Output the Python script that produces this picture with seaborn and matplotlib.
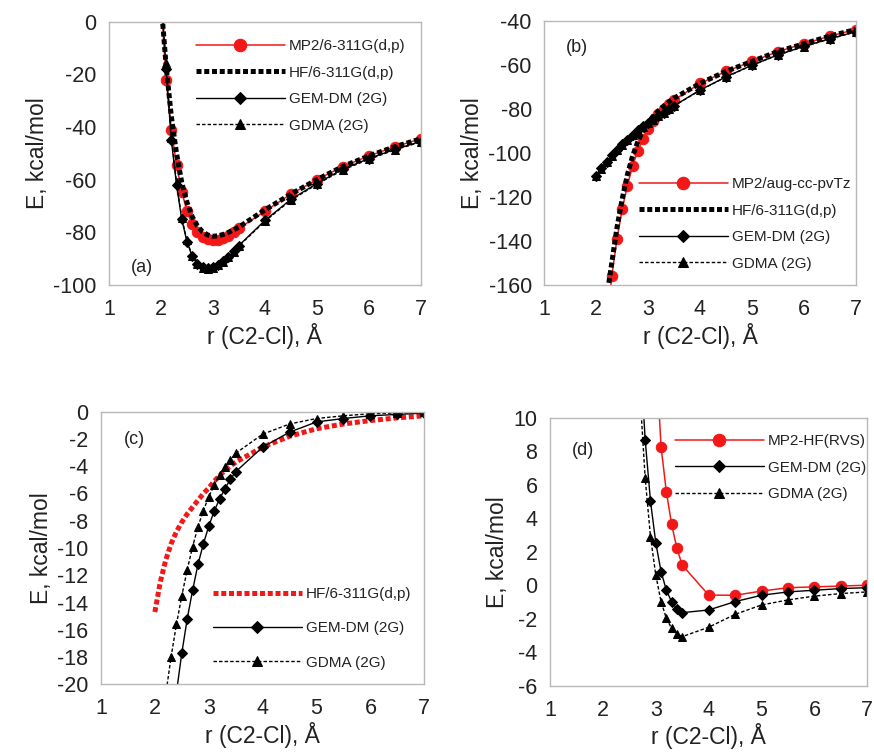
import seaborn as sns
import matplotlib.pyplot as plt

# r (C2-Cl) grid, Å
r_all = [2.0, 2.1, 2.2, 2.3, 2.4, 2.5, 2.6, 2.7, 2.8, 2.9, 3.0, 3.1, 3.2, 3.3, 3.4, 3.5,
         4.0, 4.5, 5.0, 5.5, 6.0, 6.5, 7.0]
r_from21 = r_all[1:]
r_from22 = r_all[2:]
r_from23 = r_all[3:]
r_from27 = [2.7, 2.8, 2.9, 3.0, 3.1, 3.2, 3.3, 3.4, 3.5, 4.0, 4.5, 5.0, 5.5, 6.0, 6.5, 7.0]
r_from30 = [3.0, 3.1, 3.2, 3.3, 3.4, 3.5, 4.0, 4.5, 5.0, 5.5, 6.0, 6.5, 7.0]

# (a) total energies
mp2_a = [8, -22, -41, -54.5, -64.5, -72, -77, -80, -81.8, -82.7, -83, -82.8, -82.2, -81.3, -80, -78.5,
         -72, -65.5, -60, -55, -51, -47.5, -44.5]
hf_a = [8, -17, -36, -50, -61, -68.5, -74, -77.5, -79.8, -81, -81.5, -81.3, -80.8, -80, -79, -78,
        -71.5, -65.5, -60, -55, -51, -47.5, -44.5]
gem_a = [12, -18, -45, -62, -75, -83.5, -89, -92, -93.3, -93.7, -93.3, -92.3, -91, -89.3, -87.2, -85,
         -75.5, -67.5, -61.5, -56, -52, -48.5, -45.5]
gdma_a = [10, -15.5, -44, -61, -74.5, -83, -88.8, -92, -93.5, -93.8, -93.5, -92.5, -91.2, -89.5, -87.4, -85.2,
          -75.8, -67.8, -61.8, -56.3, -52.3, -48.7, -45.7]

# (b)
mp2_b = [-180, -156, -139, -125.7, -115, -106, -99.2, -93.6, -89, -85.5, -82.5, -80, -78, -76,
         -68.5, -63, -58.5, -54, -50.5, -47, -44]
hf_b = [-166, -150, -134, -121, -110, -101.5, -95, -90, -86.3, -83.3, -80.9, -78.8, -76.9, -75.2,
        -68.5, -63, -58.5, -54, -50.5, -47, -44]
gem_b = [-110.5, -107, -104, -101.2, -98.6, -96.2, -94, -91.8, -89.8, -88, -86.5, -84.8, -83.2, -81.7, -80.2, -78.6,
         -71.5, -65.5, -60.2, -55.5, -51.7, -48.2, -45]
gdma_b = [-110.5, -107.2, -104.1, -101.3, -98.7, -96.3, -94.1, -91.9, -89.9, -88.1, -86.6, -84.9, -83.3, -81.8, -80.3, -78.7,
          -71.6, -65.6, -60.3, -55.6, -51.8, -48.3, -45.1]

# (c)
hf_c = [-14.7, -12.5, -10.9, -9.7, -8.8, -8.1, -7.5, -7.0, -6.5, -6.0, -5.6, -5.1, -4.7, -4.3, -4.0, -3.7,
        -2.6, -1.8, -1.25, -0.9, -0.65, -0.45, -0.3]
gem_c = [-24, -20.6, -17.7, -15.2, -13.1, -11.2, -9.7, -8.4, -7.3, -6.4, -5.65, -4.96, -4.4,
         -2.6, -1.5, -0.75, -0.5, -0.3, -0.2, -0.1]
gdma_c = [-24.5, -20.8, -18.0, -15.6, -13.5, -11.6, -9.9, -8.45, -7.25, -6.25, -5.4, -4.65, -4.05, -3.55, -3.05,
          -1.65, -0.9, -0.5, -0.3, -0.15, -0.1, -0.05]

# (d)
mp2_d = [14, 8.27, 5.58, 3.63, 2.2, 1.2, -0.59, -0.6, -0.35, -0.15, -0.1, -0.05, 0.0]
gem_d = [14, 8.67, 5.03, 2.54, 0.81, -0.29, -1.0, -1.4, -1.64, -1.48, -0.98, -0.6, -0.4, -0.3, -0.2, -0.15]
gdma_d = [11.5, 6.38, 2.9, 0.61, -0.98, -1.98, -2.57, -2.9, -3.07, -2.51, -1.74, -1.18, -0.88, -0.65, -0.5, -0.4]

RED = '#f21818'
STYLES = {
    'mp2': dict(marker='o', markersize=7.5, linewidth=1.1, linestyle='-'),
    'hf': dict(marker='', linewidth=3.6, linestyle=(0, (1, 0.55))),
    'gem': dict(marker='D', markersize=4.8, linewidth=1.0, linestyle='-'),
    'gdma': dict(marker='^', markersize=6, linewidth=1.0, linestyle=(0, (2.5, 1.5))),
}

sns.set_style("white")
plt.rcParams['font.family'] = ['Liberation Sans', 'DejaVu Sans']
plt.rcParams['axes.unicode_minus'] = False

W, H = 874, 755
fig = plt.figure(figsize=(W / 100, H / 100), dpi=100)


def add_ax(left, top, right, bottom):
    return fig.add_axes([left / W, 1 - bottom / H, (right - left) / W, (bottom - top) / H])


def curve(ax, x, y, kind, color, label):
    sns.lineplot(x=x, y=y, ax=ax, color=color, label=label, estimator=None, sort=False,
                 markeredgecolor=color, markerfacecolor=color, **STYLES[kind])


def finish(ax, yticks, tag, tag_xy, leg_xy, spacing):
    ax.set_xlim(1, 7)
    ax.set_ylim(yticks[0], yticks[-1])
    ax.set_xticks(range(1, 8))
    ax.set_yticks(yticks)
    for sp in ax.spines.values():
        sp.set_color('#b8b8b8')
        sp.set_linewidth(1.0)
    ax.tick_params(axis='both', direction='out', length=5, width=1, color='#b8b8b8',
                   labelsize=15.5, labelcolor='#222222')
    ax.tick_params(axis='x', pad=5)
    ax.tick_params(axis='y', pad=4)
    ax.set_xlabel('r (C2-Cl), Å', fontsize=16.5, color='#222222', labelpad=2)
    ax.set_ylabel('E, kcal/mol', fontsize=16.5, color='#222222', labelpad=3)
    ax.text(tag_xy[0], tag_xy[1], tag, transform=ax.transAxes, fontsize=13, color='#222222')
    ax.legend(loc='upper left', bbox_to_anchor=(leg_xy[0] / W, 1 - leg_xy[1] / H),
              bbox_transform=fig.transFigure, frameon=False, fontsize=11, borderpad=0,
              borderaxespad=0, handlelength=5.8, handletextpad=0.3, labelspacing=spacing,
              labelcolor='#222222', markerscale=1.2)


# (a)
ax = add_ax(109, 21.7, 420.7, 285)
curve(ax, r_all, mp2_a, 'mp2', RED, 'MP2/6-311G(d,p)')
curve(ax, r_all, hf_a, 'hf', 'black', 'HF/6-311G(d,p)')
curve(ax, r_all, gem_a, 'gem', 'black', 'GEM-DM (2G)')
curve(ax, r_all, gdma_a, 'gdma', 'black', 'GDMA (2G)')
finish(ax, [-100, -80, -60, -40, -20, 0], '(a)', (0.07, 0.05), (196, 39), 0.82)

# (b)
ax = add_ax(544.3, 20.7, 855.7, 285)
curve(ax, r_from22, mp2_b, 'mp2', RED, 'MP2/aug-cc-pvTz')
curve(ax, r_from22, hf_b, 'hf', 'black', 'HF/6-311G(d,p)')
curve(ax, r_all, gem_b, 'gem', 'black', 'GEM-DM (2G)')
curve(ax, r_all, gdma_b, 'gdma', 'black', 'GDMA (2G)')
finish(ax, [-160, -140, -120, -100, -80, -60, -40], '(b)', (0.07, 0.88), (639, 177), 0.82)

# (c)
ax = add_ax(101, 411.7, 424.3, 684.3)
curve(ax, r_all, hf_c, 'hf', RED, 'HF/6-311G(d,p)')
curve(ax, r_from23, gem_c, 'gem', 'black', 'GEM-DM (2G)')
curve(ax, r_from21, gdma_c, 'gdma', 'black', 'GDMA (2G)')
finish(ax, list(range(-20, 1, 2)), '(c)', (0.07, 0.88), (213, 587), 1.33)

# (d)
ax = add_ax(550, 417.7, 867.3, 685.7)
curve(ax, r_from30, mp2_d, 'mp2', RED, 'MP2-HF(RVS)')
curve(ax, r_from27, gem_d, 'gem', 'black', 'GEM-DM (2G)')
curve(ax, r_from27, gdma_d, 'gdma', 'black', 'GDMA (2G)')
finish(ax, list(range(-6, 11, 2)), '(d)', (0.07, 0.86), (675, 434), 0.82)

plt.savefig('out.png', dpi=100)
